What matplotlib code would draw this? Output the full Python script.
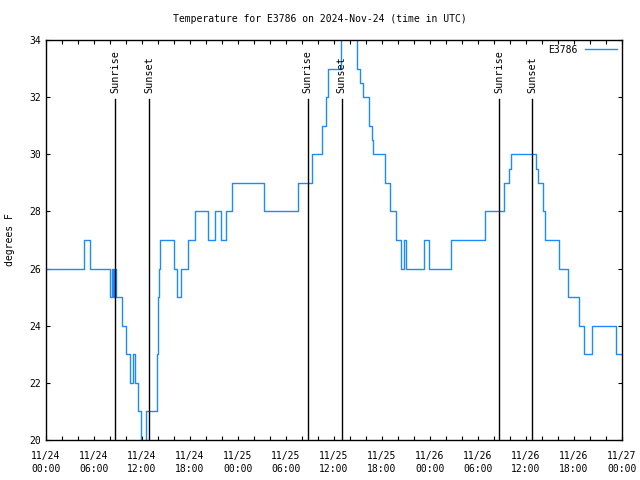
import matplotlib
matplotlib.use('Agg')
import matplotlib.pyplot as plt

# hours since 2024-11-24 00:00 UTC, temperature (deg F) from that hour on
hours = [0.0, 4.8, 5.5, 8.0, 8.2, 8.35, 8.5, 8.7, 9.45, 10.05, 10.45, 10.85,
         11.15, 11.5, 11.9, 12.45, 13.85, 13.95, 14.1, 14.25, 16.05, 16.4,
         16.85, 17.75, 18.65, 20.25, 21.1, 21.9, 22.45, 23.3, 27.2, 31.5,
         33.3, 34.55, 34.95, 35.3, 36.85, 38.85, 39.25, 39.6, 40.4, 40.7,
         40.85, 42.4, 43.0, 43.7, 44.4, 44.7, 44.95, 47.3, 47.85, 50.6,
         54.85, 57.3, 57.9, 58.1, 61.3, 61.5, 62.1, 62.4, 64.1, 65.3, 66.6,
         67.3, 68.3, 71.3, 72.0]
temps = [26, 27, 26, 25, 26, 25, 26, 25, 24, 23, 22, 23,
         22, 21, 19.5, 21, 23, 25, 26, 27, 26, 25,
         26, 27, 28, 27, 28, 27, 28, 29, 28, 29,
         30, 31, 32, 33, 35, 33, 32.5, 32, 31, 30.5,
         30, 29, 28, 27, 26, 27, 26, 27, 26, 27,
         28, 29, 29.5, 30, 29.5, 29, 28, 27, 26, 25, 24,
         23, 24, 23, 23]

sunrise = [8.67, 32.7, 56.67]
sunset = [12.9, 36.96, 60.8]

tick_hours = list(range(0, 73, 6))
tick_labels = ['11/24\n00:00', '11/24\n06:00', '11/24\n12:00', '11/24\n18:00',
               '11/25\n00:00', '11/25\n06:00', '11/25\n12:00', '11/25\n18:00',
               '11/26\n00:00', '11/26\n06:00', '11/26\n12:00', '11/26\n18:00',
               '11/27\n00:00']

plt.rcParams['font.family'] = 'DejaVu Sans Mono'
plt.rcParams['font.size'] = 7

fig = plt.figure(figsize=(6.4, 4.8), dpi=100)
ax = fig.add_axes([46 / 640, 40 / 480, 576 / 640, 400 / 480])

ax.plot(hours, temps, drawstyle='steps-post', color='#1a8cff', lw=1.0,
        label='E3786')

for h in sunrise:
    ax.axvline(h, ymax=0.8525, color='black', lw=1.0)
    ax.text(h, 0.8675, 'Sunrise', rotation=90, ha='center', va='bottom',
            transform=ax.get_xaxis_transform(), fontsize=7.3)
for h in sunset:
    ax.axvline(h, ymax=0.8525, color='black', lw=1.0)
    ax.text(h, 0.8675, 'Sunset', rotation=90, ha='center', va='bottom',
            transform=ax.get_xaxis_transform(), fontsize=7.3)

ax.set_xlim(0, 72)
ax.set_ylim(20, 34)
ax.set_xticks(tick_hours)
ax.set_xticklabels(tick_labels, linespacing=1.3)
ax.set_xticks(range(0, 73, 2), minor=True)
ax.set_yticks(range(20, 35, 2))
ax.tick_params(which='both', direction='in', top=True, right=True,
               length=3, width=0.8)
ax.tick_params(axis='x', pad=8)
for s in ax.spines.values():
    s.set_linewidth(1.0)

ax.set_ylabel('degrees F', labelpad=10)
fig.text(0.5, 1 - 19 / 480, 'Temperature for E3786 on 2024-Nov-24 (time in UTC)',
         ha='center', va='center', fontsize=7)
ax.legend(loc='upper right', frameon=False, markerfirst=False,
          handlelength=3.3, borderaxespad=0.1, handletextpad=0.8)

fig.savefig('out.png', dpi=100)
